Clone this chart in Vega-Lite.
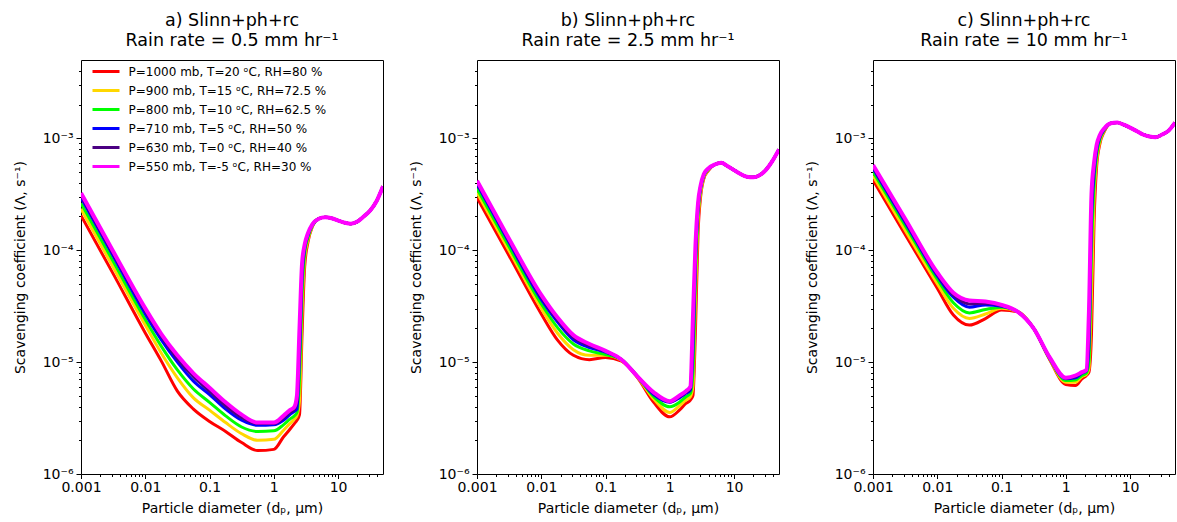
{
"$schema":"https://vega.github.io/schema/vega-lite/v6.json",
"background":"white",
"padding":{"left":12,"top":11,"right":0,"bottom":0},
"spacing":94,
"bounds":"flush",
"resolve":{"scale":{"color":"independent","x":"independent","y":"independent"},"legend":{"color":"independent"}},
"datasets":{
"a":[
{"s":"1000","x":0.001,"y":2.04e-4},{"s":"1000","x":0.00316,"y":6.17e-5},{"s":"1000","x":0.01,"y":1.82e-5},{"s":"1000","x":0.0178,"y":1.02e-5},{"s":"1000","x":0.0316,"y":5.50e-6},{"s":"1000","x":0.0562,"y":3.80e-6},{"s":"1000","x":0.1,"y":2.95e-6},{"s":"1000","x":0.178,"y":2.40e-6},{"s":"1000","x":0.316,"y":1.91e-6},{"s":"1000","x":0.562,"y":1.62e-6},{"s":"1000","x":1,"y":1.66e-6},{"s":"1000","x":1.41,"y":2.14e-6},{"s":"1000","x":1.78,"y":2.51e-6},{"s":"1000","x":2.09,"y":2.82e-6},{"s":"1000","x":2.29,"y":3.02e-6},{"s":"1000","x":2.51,"y":3.39e-6},{"s":"1000","x":2.75,"y":1.78e-5},{"s":"1000","x":3.02,"y":7.08e-5},{"s":"1000","x":3.39,"y":1.17e-4},{"s":"1000","x":3.98,"y":1.62e-4},{"s":"1000","x":5.01,"y":1.91e-4},{"s":"1000","x":6.31,"y":1.97e-4},{"s":"1000","x":7.94,"y":1.93e-4},{"s":"1000","x":10,"y":1.84e-4},{"s":"1000","x":12.6,"y":1.76e-4},{"s":"1000","x":15.8,"y":1.72e-4},{"s":"1000","x":20,"y":1.80e-4},{"s":"1000","x":25.1,"y":2.00e-4},{"s":"1000","x":31.6,"y":2.26e-4},{"s":"1000","x":39.8,"y":2.75e-4},{"s":"1000","x":50,"y":3.72e-4},
{"s":"900","x":0.001,"y":2.34e-4},{"s":"900","x":0.00316,"y":7.08e-5},{"s":"900","x":0.01,"y":2.14e-5},{"s":"900","x":0.0178,"y":1.20e-5},{"s":"900","x":0.0316,"y":7.24e-6},{"s":"900","x":0.0562,"y":4.79e-6},{"s":"900","x":0.1,"y":3.72e-6},{"s":"900","x":0.178,"y":2.88e-6},{"s":"900","x":0.316,"y":2.29e-6},{"s":"900","x":0.562,"y":2.00e-6},{"s":"900","x":1,"y":2.04e-6},{"s":"900","x":1.41,"y":2.45e-6},{"s":"900","x":1.78,"y":2.82e-6},{"s":"900","x":2.09,"y":3.09e-6},{"s":"900","x":2.29,"y":3.31e-6},{"s":"900","x":2.51,"y":4.47e-6},{"s":"900","x":2.75,"y":2.82e-5},{"s":"900","x":3.02,"y":8.32e-5},{"s":"900","x":3.39,"y":1.23e-4},{"s":"900","x":3.98,"y":1.64e-4},{"s":"900","x":5.01,"y":1.91e-4},{"s":"900","x":6.31,"y":1.97e-4},{"s":"900","x":7.94,"y":1.93e-4},{"s":"900","x":10,"y":1.84e-4},{"s":"900","x":12.6,"y":1.76e-4},{"s":"900","x":15.8,"y":1.72e-4},{"s":"900","x":20,"y":1.80e-4},{"s":"900","x":25.1,"y":2.00e-4},{"s":"900","x":31.6,"y":2.26e-4},{"s":"900","x":39.8,"y":2.75e-4},{"s":"900","x":50,"y":3.72e-4},
{"s":"800","x":0.001,"y":2.63e-4},{"s":"800","x":0.00316,"y":7.94e-5},{"s":"800","x":0.01,"y":2.40e-5},{"s":"800","x":0.0178,"y":1.38e-5},{"s":"800","x":0.0316,"y":8.51e-6},{"s":"800","x":0.0562,"y":5.75e-6},{"s":"800","x":0.1,"y":4.37e-6},{"s":"800","x":0.178,"y":3.31e-6},{"s":"800","x":0.316,"y":2.63e-6},{"s":"800","x":0.562,"y":2.40e-6},{"s":"800","x":1,"y":2.43e-6},{"s":"800","x":1.41,"y":2.75e-6},{"s":"800","x":1.78,"y":3.09e-6},{"s":"800","x":2.09,"y":3.31e-6},{"s":"800","x":2.29,"y":3.55e-6},{"s":"800","x":2.51,"y":7.08e-6},{"s":"800","x":2.75,"y":3.98e-5},{"s":"800","x":3.02,"y":9.33e-5},{"s":"800","x":3.39,"y":1.29e-4},{"s":"800","x":3.98,"y":1.66e-4},{"s":"800","x":5.01,"y":1.91e-4},{"s":"800","x":6.31,"y":1.97e-4},{"s":"800","x":7.94,"y":1.93e-4},{"s":"800","x":10,"y":1.84e-4},{"s":"800","x":12.6,"y":1.76e-4},{"s":"800","x":15.8,"y":1.72e-4},{"s":"800","x":20,"y":1.80e-4},{"s":"800","x":25.1,"y":2.00e-4},{"s":"800","x":31.6,"y":2.26e-4},{"s":"800","x":39.8,"y":2.75e-4},{"s":"800","x":50,"y":3.72e-4},
{"s":"710","x":0.001,"y":2.95e-4},{"s":"710","x":0.00316,"y":8.91e-5},{"s":"710","x":0.01,"y":2.69e-5},{"s":"710","x":0.0178,"y":1.58e-5},{"s":"710","x":0.0316,"y":1.00e-5},{"s":"710","x":0.0562,"y":6.76e-6},{"s":"710","x":0.1,"y":5.13e-6},{"s":"710","x":0.178,"y":3.80e-6},{"s":"710","x":0.316,"y":3.02e-6},{"s":"710","x":0.562,"y":2.72e-6},{"s":"710","x":1,"y":2.75e-6},{"s":"710","x":1.41,"y":3.02e-6},{"s":"710","x":1.78,"y":3.39e-6},{"s":"710","x":2.09,"y":3.63e-6},{"s":"710","x":2.29,"y":3.80e-6},{"s":"710","x":2.51,"y":1.12e-5},{"s":"710","x":2.75,"y":5.62e-5},{"s":"710","x":3.02,"y":1.02e-4},{"s":"710","x":3.39,"y":1.35e-4},{"s":"710","x":3.98,"y":1.68e-4},{"s":"710","x":5.01,"y":1.91e-4},{"s":"710","x":6.31,"y":1.97e-4},{"s":"710","x":7.94,"y":1.93e-4},{"s":"710","x":10,"y":1.84e-4},{"s":"710","x":12.6,"y":1.76e-4},{"s":"710","x":15.8,"y":1.72e-4},{"s":"710","x":20,"y":1.80e-4},{"s":"710","x":25.1,"y":2.00e-4},{"s":"710","x":31.6,"y":2.26e-4},{"s":"710","x":39.8,"y":2.75e-4},{"s":"710","x":50,"y":3.72e-4},
{"s":"630","x":0.001,"y":3.09e-4},{"s":"630","x":0.00316,"y":9.33e-5},{"s":"630","x":0.01,"y":2.88e-5},{"s":"630","x":0.0178,"y":1.70e-5},{"s":"630","x":0.0316,"y":1.07e-5},{"s":"630","x":0.0562,"y":7.41e-6},{"s":"630","x":0.1,"y":5.50e-6},{"s":"630","x":0.178,"y":4.07e-6},{"s":"630","x":0.316,"y":3.20e-6},{"s":"630","x":0.562,"y":2.82e-6},{"s":"630","x":1,"y":2.82e-6},{"s":"630","x":1.41,"y":3.16e-6},{"s":"630","x":1.78,"y":3.55e-6},{"s":"630","x":2.09,"y":3.80e-6},{"s":"630","x":2.29,"y":4.37e-6},{"s":"630","x":2.51,"y":1.58e-5},{"s":"630","x":2.75,"y":6.61e-5},{"s":"630","x":3.02,"y":1.07e-4},{"s":"630","x":3.39,"y":1.38e-4},{"s":"630","x":3.98,"y":1.70e-4},{"s":"630","x":5.01,"y":1.91e-4},{"s":"630","x":6.31,"y":1.97e-4},{"s":"630","x":7.94,"y":1.93e-4},{"s":"630","x":10,"y":1.84e-4},{"s":"630","x":12.6,"y":1.76e-4},{"s":"630","x":15.8,"y":1.72e-4},{"s":"630","x":20,"y":1.80e-4},{"s":"630","x":25.1,"y":2.00e-4},{"s":"630","x":31.6,"y":2.26e-4},{"s":"630","x":39.8,"y":2.75e-4},{"s":"630","x":50,"y":3.72e-4},
{"s":"550","x":0.001,"y":3.24e-4},{"s":"550","x":0.00316,"y":9.77e-5},{"s":"550","x":0.01,"y":3.02e-5},{"s":"550","x":0.0178,"y":1.78e-5},{"s":"550","x":0.0316,"y":1.15e-5},{"s":"550","x":0.0562,"y":7.94e-6},{"s":"550","x":0.1,"y":5.89e-6},{"s":"550","x":0.178,"y":4.37e-6},{"s":"550","x":0.316,"y":3.39e-6},{"s":"550","x":0.562,"y":2.88e-6},{"s":"550","x":1,"y":2.88e-6},{"s":"550","x":1.41,"y":3.31e-6},{"s":"550","x":1.78,"y":3.72e-6},{"s":"550","x":2.09,"y":3.98e-6},{"s":"550","x":2.29,"y":5.01e-6},{"s":"550","x":2.51,"y":2.00e-5},{"s":"550","x":2.75,"y":7.59e-5},{"s":"550","x":3.02,"y":1.12e-4},{"s":"550","x":3.39,"y":1.41e-4},{"s":"550","x":3.98,"y":1.70e-4},{"s":"550","x":5.01,"y":1.91e-4},{"s":"550","x":6.31,"y":1.97e-4},{"s":"550","x":7.94,"y":1.93e-4},{"s":"550","x":10,"y":1.84e-4},{"s":"550","x":12.6,"y":1.76e-4},{"s":"550","x":15.8,"y":1.72e-4},{"s":"550","x":20,"y":1.80e-4},{"s":"550","x":25.1,"y":2.00e-4},{"s":"550","x":31.6,"y":2.26e-4},{"s":"550","x":39.8,"y":2.75e-4},{"s":"550","x":50,"y":3.72e-4}
],
"b":[
{"s":"1000","x":0.001,"y":2.95e-4},{"s":"1000","x":0.00316,"y":8.91e-5},{"s":"1000","x":0.01,"y":2.69e-5},{"s":"1000","x":0.0178,"y":1.58e-5},{"s":"1000","x":0.0316,"y":1.15e-5},{"s":"1000","x":0.0562,"y":1.05e-5},{"s":"1000","x":0.1,"y":1.10e-5},{"s":"1000","x":0.178,"y":1.02e-5},{"s":"1000","x":0.316,"y":7.24e-6},{"s":"1000","x":0.562,"y":4.37e-6},{"s":"1000","x":1,"y":3.24e-6},{"s":"1000","x":1.41,"y":3.72e-6},{"s":"1000","x":1.78,"y":4.27e-6},{"s":"1000","x":2.09,"y":4.57e-6},{"s":"1000","x":2.29,"y":5.01e-6},{"s":"1000","x":2.51,"y":2.00e-5},{"s":"1000","x":2.75,"y":1.41e-4},{"s":"1000","x":3.02,"y":3.02e-4},{"s":"1000","x":3.39,"y":4.37e-4},{"s":"1000","x":3.98,"y":5.13e-4},{"s":"1000","x":5.01,"y":5.82e-4},{"s":"1000","x":6.31,"y":6.03e-4},{"s":"1000","x":7.94,"y":5.62e-4},{"s":"1000","x":10,"y":5.19e-4},{"s":"1000","x":12.6,"y":4.79e-4},{"s":"1000","x":15.8,"y":4.52e-4},{"s":"1000","x":20,"y":4.47e-4},{"s":"1000","x":25.1,"y":4.68e-4},{"s":"1000","x":31.6,"y":5.25e-4},{"s":"1000","x":39.8,"y":6.31e-4},{"s":"1000","x":50,"y":7.94e-4},
{"s":"900","x":0.001,"y":3.27e-4},{"s":"900","x":0.00316,"y":9.89e-5},{"s":"900","x":0.01,"y":3.02e-5},{"s":"900","x":0.0178,"y":1.82e-5},{"s":"900","x":0.0316,"y":1.29e-5},{"s":"900","x":0.0562,"y":1.15e-5},{"s":"900","x":0.1,"y":1.15e-5},{"s":"900","x":0.178,"y":1.035e-5},{"s":"900","x":0.316,"y":7.33e-6},{"s":"900","x":0.562,"y":4.68e-6},{"s":"900","x":1,"y":3.55e-6},{"s":"900","x":1.41,"y":4.07e-6},{"s":"900","x":1.78,"y":4.57e-6},{"s":"900","x":2.09,"y":4.90e-6},{"s":"900","x":2.29,"y":6.03e-6},{"s":"900","x":2.51,"y":3.55e-5},{"s":"900","x":2.75,"y":1.78e-4},{"s":"900","x":3.02,"y":3.24e-4},{"s":"900","x":3.39,"y":4.47e-4},{"s":"900","x":3.98,"y":5.19e-4},{"s":"900","x":5.01,"y":5.82e-4},{"s":"900","x":6.31,"y":6.03e-4},{"s":"900","x":7.94,"y":5.62e-4},{"s":"900","x":10,"y":5.19e-4},{"s":"900","x":12.6,"y":4.79e-4},{"s":"900","x":15.8,"y":4.52e-4},{"s":"900","x":20,"y":4.47e-4},{"s":"900","x":25.1,"y":4.68e-4},{"s":"900","x":31.6,"y":5.25e-4},{"s":"900","x":39.8,"y":6.31e-4},{"s":"900","x":50,"y":7.94e-4},
{"s":"800","x":0.001,"y":3.55e-4},{"s":"800","x":0.00316,"y":1.07e-4},{"s":"800","x":0.01,"y":3.31e-5},{"s":"800","x":0.0178,"y":2.04e-5},{"s":"800","x":0.0316,"y":1.45e-5},{"s":"800","x":0.0562,"y":1.26e-5},{"s":"800","x":0.1,"y":1.17e-5},{"s":"800","x":0.178,"y":1.05e-5},{"s":"800","x":0.316,"y":7.41e-6},{"s":"800","x":0.562,"y":4.90e-6},{"s":"800","x":1,"y":3.98e-6},{"s":"800","x":1.41,"y":4.37e-6},{"s":"800","x":1.78,"y":4.90e-6},{"s":"800","x":2.09,"y":5.25e-6},{"s":"800","x":2.29,"y":7.94e-6},{"s":"800","x":2.51,"y":5.62e-5},{"s":"800","x":2.75,"y":2.09e-4},{"s":"800","x":3.02,"y":3.47e-4},{"s":"800","x":3.39,"y":4.57e-4},{"s":"800","x":3.98,"y":5.25e-4},{"s":"800","x":5.01,"y":5.82e-4},{"s":"800","x":6.31,"y":6.03e-4},{"s":"800","x":7.94,"y":5.62e-4},{"s":"800","x":10,"y":5.19e-4},{"s":"800","x":12.6,"y":4.79e-4},{"s":"800","x":15.8,"y":4.52e-4},{"s":"800","x":20,"y":4.47e-4},{"s":"800","x":25.1,"y":4.68e-4},{"s":"800","x":31.6,"y":5.25e-4},{"s":"800","x":39.8,"y":6.31e-4},{"s":"800","x":50,"y":7.94e-4},
{"s":"710","x":0.001,"y":3.89e-4},{"s":"710","x":0.00316,"y":1.17e-4},{"s":"710","x":0.01,"y":3.63e-5},{"s":"710","x":0.0178,"y":2.29e-5},{"s":"710","x":0.0316,"y":1.58e-5},{"s":"710","x":0.0562,"y":1.35e-5},{"s":"710","x":0.1,"y":1.23e-5},{"s":"710","x":0.178,"y":1.05e-5},{"s":"710","x":0.316,"y":7.41e-6},{"s":"710","x":0.562,"y":5.13e-6},{"s":"710","x":1,"y":4.37e-6},{"s":"710","x":1.41,"y":4.79e-6},{"s":"710","x":1.78,"y":5.25e-6},{"s":"710","x":2.09,"y":5.62e-6},{"s":"710","x":2.29,"y":1.26e-5},{"s":"710","x":2.51,"y":7.94e-5},{"s":"710","x":2.75,"y":2.34e-4},{"s":"710","x":3.02,"y":3.63e-4},{"s":"710","x":3.39,"y":4.68e-4},{"s":"710","x":3.98,"y":5.31e-4},{"s":"710","x":5.01,"y":5.82e-4},{"s":"710","x":6.31,"y":6.03e-4},{"s":"710","x":7.94,"y":5.62e-4},{"s":"710","x":10,"y":5.19e-4},{"s":"710","x":12.6,"y":4.79e-4},{"s":"710","x":15.8,"y":4.52e-4},{"s":"710","x":20,"y":4.47e-4},{"s":"710","x":25.1,"y":4.68e-4},{"s":"710","x":31.6,"y":5.25e-4},{"s":"710","x":39.8,"y":6.31e-4},{"s":"710","x":50,"y":7.94e-4},
{"s":"630","x":0.001,"y":4.03e-4},{"s":"630","x":0.00316,"y":1.22e-4},{"s":"630","x":0.01,"y":3.80e-5},{"s":"630","x":0.0178,"y":2.40e-5},{"s":"630","x":0.0316,"y":1.66e-5},{"s":"630","x":0.0562,"y":1.40e-5},{"s":"630","x":0.1,"y":1.245e-5},{"s":"630","x":0.178,"y":1.05e-5},{"s":"630","x":0.316,"y":7.41e-6},{"s":"630","x":0.562,"y":5.25e-6},{"s":"630","x":1,"y":4.42e-6},{"s":"630","x":1.41,"y":4.90e-6},{"s":"630","x":1.78,"y":5.37e-6},{"s":"630","x":2.09,"y":5.82e-6},{"s":"630","x":2.29,"y":1.78e-5},{"s":"630","x":2.51,"y":9.55e-5},{"s":"630","x":2.75,"y":2.51e-4},{"s":"630","x":3.02,"y":3.72e-4},{"s":"630","x":3.39,"y":4.73e-4},{"s":"630","x":3.98,"y":5.37e-4},{"s":"630","x":5.01,"y":5.82e-4},{"s":"630","x":6.31,"y":6.03e-4},{"s":"630","x":7.94,"y":5.62e-4},{"s":"630","x":10,"y":5.19e-4},{"s":"630","x":12.6,"y":4.79e-4},{"s":"630","x":15.8,"y":4.52e-4},{"s":"630","x":20,"y":4.47e-4},{"s":"630","x":25.1,"y":4.68e-4},{"s":"630","x":31.6,"y":5.25e-4},{"s":"630","x":39.8,"y":6.31e-4},{"s":"630","x":50,"y":7.94e-4},
{"s":"550","x":0.001,"y":4.17e-4},{"s":"550","x":0.00316,"y":1.26e-4},{"s":"550","x":0.01,"y":3.98e-5},{"s":"550","x":0.0178,"y":2.51e-5},{"s":"550","x":0.0316,"y":1.74e-5},{"s":"550","x":0.0562,"y":1.45e-5},{"s":"550","x":0.1,"y":1.26e-5},{"s":"550","x":0.178,"y":1.05e-5},{"s":"550","x":0.316,"y":7.41e-6},{"s":"550","x":0.562,"y":5.37e-6},{"s":"550","x":1,"y":4.47e-6},{"s":"550","x":1.41,"y":5.01e-6},{"s":"550","x":1.78,"y":5.50e-6},{"s":"550","x":2.09,"y":6.03e-6},{"s":"550","x":2.29,"y":2.51e-5},{"s":"550","x":2.51,"y":1.12e-4},{"s":"550","x":2.75,"y":2.63e-4},{"s":"550","x":3.02,"y":3.80e-4},{"s":"550","x":3.39,"y":4.79e-4},{"s":"550","x":3.98,"y":5.37e-4},{"s":"550","x":5.01,"y":5.82e-4},{"s":"550","x":6.31,"y":6.03e-4},{"s":"550","x":7.94,"y":5.62e-4},{"s":"550","x":10,"y":5.19e-4},{"s":"550","x":12.6,"y":4.79e-4},{"s":"550","x":15.8,"y":4.52e-4},{"s":"550","x":20,"y":4.47e-4},{"s":"550","x":25.1,"y":4.68e-4},{"s":"550","x":31.6,"y":5.25e-4},{"s":"550","x":39.8,"y":6.31e-4},{"s":"550","x":50,"y":7.94e-4}
],
"c":[
{"s":"1000","x":0.001,"y":4.22e-4},{"s":"1000","x":0.00316,"y":1.38e-4},{"s":"1000","x":0.01,"y":4.57e-5},{"s":"1000","x":0.0178,"y":2.63e-5},{"s":"1000","x":0.0316,"y":2.14e-5},{"s":"1000","x":0.0562,"y":2.45e-5},{"s":"1000","x":0.1,"y":2.92e-5},{"s":"1000","x":0.178,"y":2.82e-5},{"s":"1000","x":0.316,"y":2.00e-5},{"s":"1000","x":0.562,"y":1.05e-5},{"s":"1000","x":1,"y":6.31e-6},{"s":"1000","x":1.41,"y":6.17e-6},{"s":"1000","x":1.78,"y":7.08e-6},{"s":"1000","x":2.09,"y":7.59e-6},{"s":"1000","x":2.29,"y":8.13e-6},{"s":"1000","x":2.51,"y":1.78e-5},{"s":"1000","x":2.75,"y":1.78e-4},{"s":"1000","x":3.02,"y":5.62e-4},{"s":"1000","x":3.39,"y":8.91e-4},{"s":"1000","x":3.98,"y":1.15e-3},{"s":"1000","x":5.01,"y":1.36e-3},{"s":"1000","x":6.31,"y":1.38e-3},{"s":"1000","x":7.94,"y":1.32e-3},{"s":"1000","x":10,"y":1.245e-3},{"s":"1000","x":12.6,"y":1.16e-3},{"s":"1000","x":15.8,"y":1.08e-3},{"s":"1000","x":20,"y":1.035e-3},{"s":"1000","x":25.1,"y":1.02e-3},{"s":"1000","x":31.6,"y":1.08e-3},{"s":"1000","x":39.8,"y":1.17e-3},{"s":"1000","x":50,"y":1.38e-3},
{"s":"900","x":0.001,"y":4.62e-4},{"s":"900","x":0.00316,"y":1.51e-4},{"s":"900","x":0.01,"y":5.01e-5},{"s":"900","x":0.0178,"y":3.02e-5},{"s":"900","x":0.0316,"y":2.45e-5},{"s":"900","x":0.0562,"y":2.69e-5},{"s":"900","x":0.1,"y":3.02e-5},{"s":"900","x":0.178,"y":2.82e-5},{"s":"900","x":0.316,"y":2.00e-5},{"s":"900","x":0.562,"y":1.06e-5},{"s":"900","x":1,"y":6.61e-6},{"s":"900","x":1.41,"y":6.61e-6},{"s":"900","x":1.78,"y":7.41e-6},{"s":"900","x":2.09,"y":7.76e-6},{"s":"900","x":2.29,"y":8.71e-6},{"s":"900","x":2.51,"y":3.98e-5},{"s":"900","x":2.75,"y":2.82e-4},{"s":"900","x":3.02,"y":6.31e-4},{"s":"900","x":3.39,"y":9.33e-4},{"s":"900","x":3.98,"y":1.17e-3},{"s":"900","x":5.01,"y":1.36e-3},{"s":"900","x":6.31,"y":1.38e-3},{"s":"900","x":7.94,"y":1.32e-3},{"s":"900","x":10,"y":1.245e-3},{"s":"900","x":12.6,"y":1.16e-3},{"s":"900","x":15.8,"y":1.08e-3},{"s":"900","x":20,"y":1.035e-3},{"s":"900","x":25.1,"y":1.02e-3},{"s":"900","x":31.6,"y":1.08e-3},{"s":"900","x":39.8,"y":1.17e-3},{"s":"900","x":50,"y":1.38e-3},
{"s":"800","x":0.001,"y":5.01e-4},{"s":"800","x":0.00316,"y":1.66e-4},{"s":"800","x":0.01,"y":5.50e-5},{"s":"800","x":0.0178,"y":3.39e-5},{"s":"800","x":0.0316,"y":2.75e-5},{"s":"800","x":0.0562,"y":2.95e-5},{"s":"800","x":0.1,"y":3.09e-5},{"s":"800","x":0.178,"y":2.82e-5},{"s":"800","x":0.316,"y":2.00e-5},{"s":"800","x":0.562,"y":1.07e-5},{"s":"800","x":1,"y":6.84e-6},{"s":"800","x":1.41,"y":6.92e-6},{"s":"800","x":1.78,"y":7.59e-6},{"s":"800","x":2.09,"y":7.94e-6},{"s":"800","x":2.29,"y":1.00e-5},{"s":"800","x":2.51,"y":1.00e-4},{"s":"800","x":2.75,"y":3.80e-4},{"s":"800","x":3.02,"y":7.08e-4},{"s":"800","x":3.39,"y":9.77e-4},{"s":"800","x":3.98,"y":1.19e-3},{"s":"800","x":5.01,"y":1.36e-3},{"s":"800","x":6.31,"y":1.38e-3},{"s":"800","x":7.94,"y":1.32e-3},{"s":"800","x":10,"y":1.245e-3},{"s":"800","x":12.6,"y":1.16e-3},{"s":"800","x":15.8,"y":1.08e-3},{"s":"800","x":20,"y":1.035e-3},{"s":"800","x":25.1,"y":1.02e-3},{"s":"800","x":31.6,"y":1.08e-3},{"s":"800","x":39.8,"y":1.17e-3},{"s":"800","x":50,"y":1.38e-3},
{"s":"710","x":0.001,"y":5.37e-4},{"s":"710","x":0.00316,"y":1.78e-4},{"s":"710","x":0.01,"y":5.89e-5},{"s":"710","x":0.0178,"y":3.80e-5},{"s":"710","x":0.0316,"y":3.09e-5},{"s":"710","x":0.0562,"y":3.24e-5},{"s":"710","x":0.1,"y":3.16e-5},{"s":"710","x":0.178,"y":2.82e-5},{"s":"710","x":0.316,"y":2.00e-5},{"s":"710","x":0.562,"y":1.08e-5},{"s":"710","x":1,"y":7.08e-6},{"s":"710","x":1.41,"y":7.24e-6},{"s":"710","x":1.78,"y":7.94e-6},{"s":"710","x":2.09,"y":8.32e-6},{"s":"710","x":2.29,"y":1.41e-5},{"s":"710","x":2.51,"y":1.78e-4},{"s":"710","x":2.75,"y":4.79e-4},{"s":"710","x":3.02,"y":7.76e-4},{"s":"710","x":3.39,"y":1.02e-3},{"s":"710","x":3.98,"y":1.20e-3},{"s":"710","x":5.01,"y":1.36e-3},{"s":"710","x":6.31,"y":1.38e-3},{"s":"710","x":7.94,"y":1.32e-3},{"s":"710","x":10,"y":1.245e-3},{"s":"710","x":12.6,"y":1.16e-3},{"s":"710","x":15.8,"y":1.08e-3},{"s":"710","x":20,"y":1.035e-3},{"s":"710","x":25.1,"y":1.02e-3},{"s":"710","x":31.6,"y":1.08e-3},{"s":"710","x":39.8,"y":1.17e-3},{"s":"710","x":50,"y":1.38e-3},
{"s":"630","x":0.001,"y":5.56e-4},{"s":"630","x":0.00316,"y":1.84e-4},{"s":"630","x":0.01,"y":6.10e-5},{"s":"630","x":0.0178,"y":3.98e-5},{"s":"630","x":0.0316,"y":3.31e-5},{"s":"630","x":0.0562,"y":3.35e-5},{"s":"630","x":0.1,"y":3.20e-5},{"s":"630","x":0.178,"y":2.82e-5},{"s":"630","x":0.316,"y":2.00e-5},{"s":"630","x":0.562,"y":1.10e-5},{"s":"630","x":1,"y":7.16e-6},{"s":"630","x":1.41,"y":7.41e-6},{"s":"630","x":1.78,"y":8.04e-6},{"s":"630","x":2.09,"y":8.41e-6},{"s":"630","x":2.29,"y":2.00e-5},{"s":"630","x":2.51,"y":2.51e-4},{"s":"630","x":2.75,"y":5.50e-4},{"s":"630","x":3.02,"y":8.32e-4},{"s":"630","x":3.39,"y":1.05e-3},{"s":"630","x":3.98,"y":1.22e-3},{"s":"630","x":5.01,"y":1.36e-3},{"s":"630","x":6.31,"y":1.38e-3},{"s":"630","x":7.94,"y":1.32e-3},{"s":"630","x":10,"y":1.245e-3},{"s":"630","x":12.6,"y":1.16e-3},{"s":"630","x":15.8,"y":1.08e-3},{"s":"630","x":20,"y":1.035e-3},{"s":"630","x":25.1,"y":1.02e-3},{"s":"630","x":31.6,"y":1.08e-3},{"s":"630","x":39.8,"y":1.17e-3},{"s":"630","x":50,"y":1.38e-3},
{"s":"550","x":0.001,"y":5.75e-4},{"s":"550","x":0.00316,"y":1.91e-4},{"s":"550","x":0.01,"y":6.31e-5},{"s":"550","x":0.0178,"y":4.17e-5},{"s":"550","x":0.0316,"y":3.55e-5},{"s":"550","x":0.0562,"y":3.47e-5},{"s":"550","x":0.1,"y":3.24e-5},{"s":"550","x":0.178,"y":2.82e-5},{"s":"550","x":0.316,"y":2.00e-5},{"s":"550","x":0.562,"y":1.10e-5},{"s":"550","x":1,"y":7.24e-6},{"s":"550","x":1.41,"y":7.59e-6},{"s":"550","x":1.78,"y":8.13e-6},{"s":"550","x":2.09,"y":8.51e-6},{"s":"550","x":2.29,"y":2.82e-5},{"s":"550","x":2.51,"y":3.16e-4},{"s":"550","x":2.75,"y":6.03e-4},{"s":"550","x":3.02,"y":8.71e-4},{"s":"550","x":3.39,"y":1.07e-3},{"s":"550","x":3.98,"y":1.23e-3},{"s":"550","x":5.01,"y":1.36e-3},{"s":"550","x":6.31,"y":1.38e-3},{"s":"550","x":7.94,"y":1.32e-3},{"s":"550","x":10,"y":1.245e-3},{"s":"550","x":12.6,"y":1.16e-3},{"s":"550","x":15.8,"y":1.08e-3},{"s":"550","x":20,"y":1.035e-3},{"s":"550","x":25.1,"y":1.02e-3},{"s":"550","x":31.6,"y":1.08e-3},{"s":"550","x":39.8,"y":1.17e-3},{"s":"550","x":50,"y":1.38e-3}
]
},
"hconcat":[
{"title":{"text":["a) Slinn+ph+rc","Rain rate = 0.5 mm hr⁻¹"]},"width":302,"height":414,"data":{"name":"a"},
"resolve":{"axis":{"x":"independent","y":"independent"}},
"layer":[
{"mark":{"type":"line","interpolate":"monotone","clip":true},
"encoding":{
"x":{"field":"x","type":"quantitative","scale":{"type":"log","domain":[0.001,50],"nice":false},"axis":{"values":[0.001,0.01,0.1,1,10],"format":"~g","tickSize":4.5,"labelPadding":2,"labelFlush":false,"labelFontSize":14,"titleFontSize":14,"title":"Particle diameter (dₚ, μm)","titlePadding":7}},
"y":{"field":"y","type":"quantitative","scale":{"type":"log","domain":[1e-6,5e-3],"nice":false},"axis":{"values":[1e-6,1e-5,1e-4,1e-3],"labelExpr":"datum.value<5e-6?'10⁻⁶':datum.value<5e-5?'10⁻⁵':datum.value<5e-4?'10⁻⁴':'10⁻³'","tickSize":5,"labelPadding":3,"labelFlush":false,"labelFontSize":14,"titleFontSize":14,"title":"Scavenging coefficient (Λ, s⁻¹)","titlePadding":15}},
"color":{"field":"s","type":"nominal","scale":{"domain":["1000","900","800","710","630","550"],"range":["#ff0000","#ffd700","#00ff00","#0000ff","#4b0082","#ff00ff"]},
"legend":{"orient":"none","legendX":10,"legendY":5,"padding":0,"title":null,"symbolType":"M-2.7,0H2.7","symbolSize":100,"symbolStrokeWidth":3,"symbolOffset":8.5,"labelOffset":16,"labelFontSize":12,"labelFont":"DejaVu Sans","labelColor":"#000","rowPadding":6,"labelLimit":400,
"labelExpr":"datum.label=='1000'?'P=1000 mb, T=20 ᵒC, RH=80 %':datum.label=='900'?'P=900 mb, T=15 ᵒC, RH=72.5 %':datum.label=='800'?'P=800 mb, T=10 ᵒC, RH=62.5 %':datum.label=='710'?'P=710 mb, T=5 ᵒC, RH=50 %':datum.label=='630'?'P=630 mb, T=0 ᵒC, RH=40 %':'P=550 mb, T=-5 ᵒC, RH=30 %'"}},
"strokeWidth":{"condition":{"test":"datum.s=='550'","value":4},"value":3}}},
{"mark":{"type":"point","opacity":0},
"encoding":{
"x":{"field":"x","type":"quantitative","axis":{"orient":"bottom","values":[0.002,0.003,0.004,0.005,0.006,0.007,0.008,0.009,0.02,0.03,0.04,0.05,0.06,0.07,0.08,0.09,0.2,0.3,0.4,0.5,0.6,0.7,0.8,0.9,2,3,4,5,6,7,8,9,20,30,40],"labels":false,"tickSize":2.5,"title":null,"domain":false}},
"y":{"field":"y","type":"quantitative","axis":{"orient":"left","values":[2e-6,3e-6,4e-6,5e-6,6e-6,7e-6,8e-6,9e-6,2e-5,3e-5,4e-5,5e-5,6e-5,7e-5,8e-5,9e-5,2e-4,3e-4,4e-4,5e-4,6e-4,7e-4,8e-4,9e-4,2e-3,3e-3,4e-3],"labels":false,"tickSize":2.5,"title":null,"domain":false}}}}
]},
{"title":{"text":["b) Slinn+ph+rc","Rain rate = 2.5 mm hr⁻¹"]},"width":302,"height":414,"data":{"name":"b"},
"resolve":{"axis":{"x":"independent","y":"independent"}},
"layer":[
{"mark":{"type":"line","interpolate":"monotone","clip":true},
"encoding":{
"x":{"field":"x","type":"quantitative","scale":{"type":"log","domain":[0.001,50],"nice":false},"axis":{"values":[0.001,0.01,0.1,1,10],"format":"~g","tickSize":4.5,"labelPadding":2,"labelFlush":false,"labelFontSize":14,"titleFontSize":14,"title":"Particle diameter (dₚ, μm)","titlePadding":7}},
"y":{"field":"y","type":"quantitative","scale":{"type":"log","domain":[1e-6,5e-3],"nice":false},"axis":{"values":[1e-6,1e-5,1e-4,1e-3],"labelExpr":"datum.value<5e-6?'10⁻⁶':datum.value<5e-5?'10⁻⁵':datum.value<5e-4?'10⁻⁴':'10⁻³'","tickSize":5,"labelPadding":3,"labelFlush":false,"labelFontSize":14,"titleFontSize":14,"title":"Scavenging coefficient (Λ, s⁻¹)","titlePadding":15}},
"color":{"field":"s","type":"nominal","scale":{"domain":["1000","900","800","710","630","550"],"range":["#ff0000","#ffd700","#00ff00","#0000ff","#4b0082","#ff00ff"]},"legend":null},
"strokeWidth":{"condition":{"test":"datum.s=='550'","value":4},"value":3}}},
{"mark":{"type":"point","opacity":0},
"encoding":{
"x":{"field":"x","type":"quantitative","axis":{"orient":"bottom","values":[0.002,0.003,0.004,0.005,0.006,0.007,0.008,0.009,0.02,0.03,0.04,0.05,0.06,0.07,0.08,0.09,0.2,0.3,0.4,0.5,0.6,0.7,0.8,0.9,2,3,4,5,6,7,8,9,20,30,40],"labels":false,"tickSize":2.5,"title":null,"domain":false}},
"y":{"field":"y","type":"quantitative","axis":{"orient":"left","values":[2e-6,3e-6,4e-6,5e-6,6e-6,7e-6,8e-6,9e-6,2e-5,3e-5,4e-5,5e-5,6e-5,7e-5,8e-5,9e-5,2e-4,3e-4,4e-4,5e-4,6e-4,7e-4,8e-4,9e-4,2e-3,3e-3,4e-3],"labels":false,"tickSize":2.5,"title":null,"domain":false}}}}
]},
{"title":{"text":["c) Slinn+ph+rc","Rain rate = 10 mm hr⁻¹"]},"width":302,"height":414,"data":{"name":"c"},
"resolve":{"axis":{"x":"independent","y":"independent"}},
"layer":[
{"mark":{"type":"line","interpolate":"monotone","clip":true},
"encoding":{
"x":{"field":"x","type":"quantitative","scale":{"type":"log","domain":[0.001,50],"nice":false},"axis":{"values":[0.001,0.01,0.1,1,10],"format":"~g","tickSize":4.5,"labelPadding":2,"labelFlush":false,"labelFontSize":14,"titleFontSize":14,"title":"Particle diameter (dₚ, μm)","titlePadding":7}},
"y":{"field":"y","type":"quantitative","scale":{"type":"log","domain":[1e-6,5e-3],"nice":false},"axis":{"values":[1e-6,1e-5,1e-4,1e-3],"labelExpr":"datum.value<5e-6?'10⁻⁶':datum.value<5e-5?'10⁻⁵':datum.value<5e-4?'10⁻⁴':'10⁻³'","tickSize":5,"labelPadding":3,"labelFlush":false,"labelFontSize":14,"titleFontSize":14,"title":"Scavenging coefficient (Λ, s⁻¹)","titlePadding":15}},
"color":{"field":"s","type":"nominal","scale":{"domain":["1000","900","800","710","630","550"],"range":["#ff0000","#ffd700","#00ff00","#0000ff","#4b0082","#ff00ff"]},"legend":null},
"strokeWidth":{"condition":{"test":"datum.s=='550'","value":4},"value":3}}},
{"mark":{"type":"point","opacity":0},
"encoding":{
"x":{"field":"x","type":"quantitative","axis":{"orient":"bottom","values":[0.002,0.003,0.004,0.005,0.006,0.007,0.008,0.009,0.02,0.03,0.04,0.05,0.06,0.07,0.08,0.09,0.2,0.3,0.4,0.5,0.6,0.7,0.8,0.9,2,3,4,5,6,7,8,9,20,30,40],"labels":false,"tickSize":2.5,"title":null,"domain":false}},
"y":{"field":"y","type":"quantitative","axis":{"orient":"left","values":[2e-6,3e-6,4e-6,5e-6,6e-6,7e-6,8e-6,9e-6,2e-5,3e-5,4e-5,5e-5,6e-5,7e-5,8e-5,9e-5,2e-4,3e-4,4e-4,5e-4,6e-4,7e-4,8e-4,9e-4,2e-3,3e-3,4e-3],"labels":false,"tickSize":2.5,"title":null,"domain":false}}}}
]}
],
"config":{
"font":"DejaVu Sans",
"view":{"stroke":"#000","strokeWidth":1},
"axis":{"grid":false,"domain":false,"labelFont":"DejaVu Sans","labelFontSize":14,"labelColor":"#000","titleFont":"DejaVu Sans","titleFontSize":14,"titleFontWeight":"normal","titleColor":"#000","tickColor":"#000","tickWidth":1},
"title":{"font":"DejaVu Sans","fontSize":17.5,"fontWeight":"normal","color":"#000","anchor":"middle","lineHeight":19.5,"offset":11}
}
}
